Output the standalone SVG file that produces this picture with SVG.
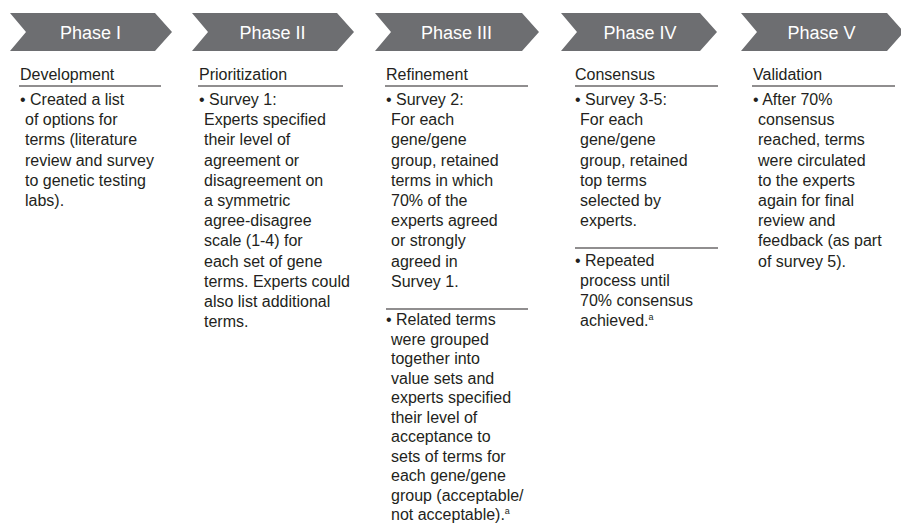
<svg xmlns="http://www.w3.org/2000/svg" width="901" height="531" viewBox="0 0 901 531">
<style>
.chev{fill:#6d6e71}
.ph{font-family:"Liberation Sans",Arial,sans-serif;font-size:18px;fill:#ffffff;text-anchor:middle}
.hd{font-family:"Liberation Sans",Arial,sans-serif;font-size:16px;fill:#231f20}
.bd{font-family:"Liberation Sans",Arial,sans-serif;font-size:16px;fill:#231f20}
.rule{stroke:#231f20;stroke-width:1.2;fill:none}
.sup{font-size:9px}
</style>
<rect width="901" height="531" fill="#ffffff"/>
<g id="phase1"><polygon class="chev" points="10,13 155,13 172,32 155,51 10,51 26,32"/><text class="ph" x="90.5" y="39">Phase I</text></g>
<g id="phase2"><polygon class="chev" points="192,13 337,13 354,32 337,51 192,51 208,32"/><text class="ph" x="272.5" y="39">Phase II</text></g>
<g id="phase3"><polygon class="chev" points="375,13 522,13 539,32 522,51 375,51 391,32"/><text class="ph" x="456.5" y="39">Phase III</text></g>
<g id="phase4"><polygon class="chev" points="561,13 700,13 717,32 700,51 561,51 577,32"/><text class="ph" x="640" y="39">Phase IV</text></g>
<g id="phase5"><polygon class="chev" points="741,13 887,13 904,32 887,51 741,51 757,32"/><text class="ph" x="821.5" y="39">Phase V</text></g>

<g id="col1">
<text class="hd" x="20" y="80">Development</text>
<line class="rule" x1="19" y1="86" x2="161" y2="86"/>
<text class="bd"><tspan x="20" y="105">• Created a list</tspan><tspan x="25" y="125.2">of options for</tspan><tspan x="25" y="145.4">terms (literature</tspan><tspan x="25" y="165.6">review and survey</tspan><tspan x="25" y="185.8">to genetic testing</tspan><tspan x="25" y="206">labs).</tspan></text>
</g>

<g id="col2">
<text class="hd" x="199" y="80">Prioritization</text>
<line class="rule" x1="198" y1="86" x2="343" y2="86"/>
<text class="bd"><tspan x="199" y="105">• Survey 1:</tspan><tspan x="204" y="125.2">Experts specified</tspan><tspan x="204" y="145.4">their level of</tspan><tspan x="204" y="165.6">agreement or</tspan><tspan x="204" y="185.8">disagreement on</tspan><tspan x="204" y="206">a symmetric</tspan><tspan x="204" y="226.2">agree-disagree</tspan><tspan x="204" y="246.4">scale (1-4) for</tspan><tspan x="204" y="266.6">each set of gene</tspan><tspan x="204" y="286.8">terms. Experts could</tspan><tspan x="204" y="307">also list additional</tspan><tspan x="204" y="327.2">terms.</tspan></text>
</g>

<g id="col3">
<text class="hd" x="386" y="80">Refinement</text>
<line class="rule" x1="385" y1="86" x2="528" y2="86"/>
<text class="bd"><tspan x="386" y="105">• Survey 2:</tspan><tspan x="391" y="125.2">For each</tspan><tspan x="391" y="145.4">gene/gene</tspan><tspan x="391" y="165.6">group, retained</tspan><tspan x="391" y="185.8">terms in which</tspan><tspan x="391" y="206">70% of the</tspan><tspan x="391" y="226.2">experts agreed</tspan><tspan x="391" y="246.4">or strongly</tspan><tspan x="391" y="266.6">agreed in</tspan><tspan x="391" y="286.8">Survey 1.</tspan></text>
<line class="rule" x1="386" y1="309" x2="528" y2="309"/>
<text class="bd"><tspan x="386" y="325">• Related terms</tspan><tspan x="391" y="344.5">were grouped</tspan><tspan x="391" y="364">together into</tspan><tspan x="391" y="383.5">value sets and</tspan><tspan x="391" y="403">experts specified</tspan><tspan x="391" y="422.5">their level of</tspan><tspan x="391" y="442">acceptance to</tspan><tspan x="391" y="461.5">sets of terms for</tspan><tspan x="391" y="481">each gene/gene</tspan><tspan x="391" y="500.5">group (acceptable/</tspan><tspan x="391" y="520">not acceptable).<tspan class="sup" dy="-6">a</tspan></tspan></text>
</g>

<g id="col4">
<text class="hd" x="575" y="80">Consensus</text>
<line class="rule" x1="575" y1="86" x2="718" y2="86"/>
<text class="bd"><tspan x="575" y="105">• Survey 3-5:</tspan><tspan x="580" y="125.2">For each</tspan><tspan x="580" y="145.4">gene/gene</tspan><tspan x="580" y="165.6">group, retained</tspan><tspan x="580" y="185.8">top terms</tspan><tspan x="580" y="206">selected by</tspan><tspan x="580" y="226.2">experts.</tspan></text>
<line class="rule" x1="575" y1="248" x2="718" y2="248"/>
<text class="bd"><tspan x="575" y="266">• Repeated</tspan><tspan x="580" y="286">process until</tspan><tspan x="580" y="306">70% consensus</tspan><tspan x="580" y="326">achieved.<tspan class="sup" dy="-6">a</tspan></tspan></text>
</g>

<g id="col5">
<text class="hd" x="753" y="80">Validation</text>
<line class="rule" x1="752" y1="86" x2="895" y2="86"/>
<text class="bd"><tspan x="753" y="105">• After 70%</tspan><tspan x="758" y="125.2">consensus</tspan><tspan x="758" y="145.4">reached, terms</tspan><tspan x="758" y="165.6">were circulated</tspan><tspan x="758" y="185.8">to the experts</tspan><tspan x="758" y="206">again for final</tspan><tspan x="758" y="226.2">review and</tspan><tspan x="758" y="246.4">feedback (as part</tspan><tspan x="758" y="266.6">of survey 5).</tspan></text>
</g>
</svg>
